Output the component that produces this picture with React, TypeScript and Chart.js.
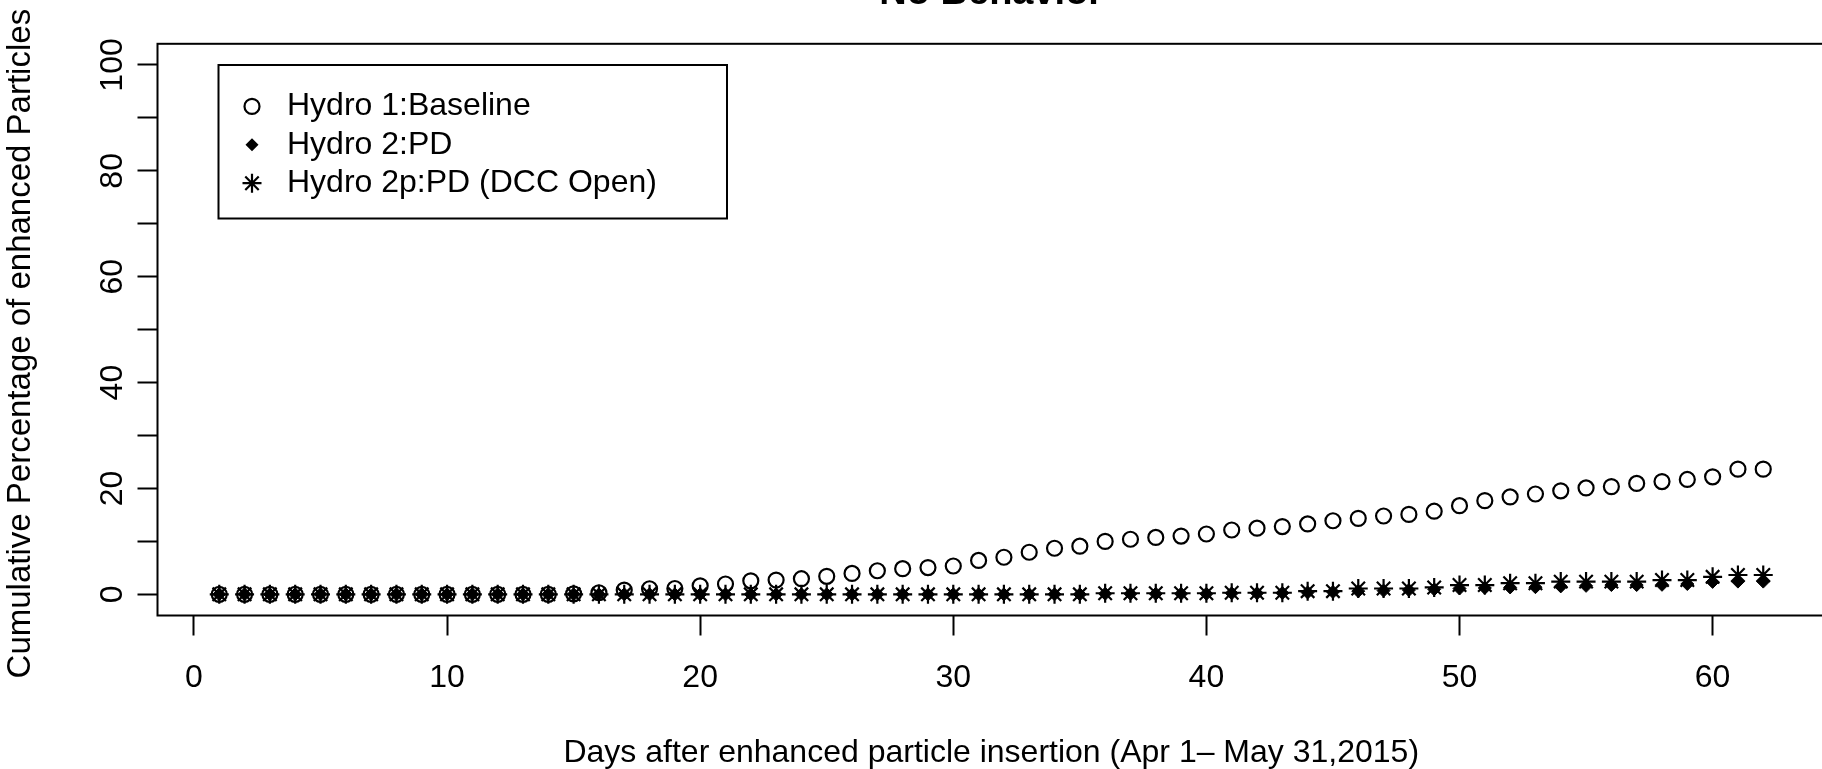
import { useEffect, useRef } from 'react';
import { Chart, registerables } from 'chart.js';

Chart.register(...registerables);

// Day index after particle insertion (x axis)
const days = [
  1, 2, 3, 4, 5, 6, 7, 8, 9, 10, 11, 12, 13, 14, 15, 16, 17, 18, 19, 20, 21,
  22, 23, 24, 25, 26, 27, 28, 29, 30, 31, 32, 33, 34, 35, 36, 37, 38, 39, 40,
  41, 42, 43, 44, 45, 46, 47, 48, 49, 50, 51, 52, 53, 54, 55, 56, 57, 58, 59,
  60, 61, 62,
];

// Cumulative % of enhanced particles, Hydro 1:Baseline
const baseline = [
  0, 0, 0, 0, 0, 0, 0, 0, 0, 0, 0, 0, 0, 0, 0.1, 0.3, 0.8, 1.05, 1.1, 1.6, 1.95,
  2.55, 2.7, 2.95, 3.4, 3.95, 4.45, 4.85, 5.05, 5.35, 6.4, 7.0, 7.95, 8.7, 9.1,
  10.0, 10.4, 10.75, 11.0, 11.4, 12.15, 12.5, 12.8, 13.3, 13.9, 14.35, 14.8,
  15.1, 15.7, 16.75, 17.7, 18.4, 18.95, 19.55, 20.1, 20.35, 20.95, 21.3, 21.7,
  22.2, 23.65, 23.65,
];

// Hydro 2:PD
const hydro2PD = [
  0, 0, 0, 0, 0, 0, 0, 0, 0, 0, 0, 0, 0, 0, 0, 0, 0, 0, 0, 0, 0, 0, 0, 0, 0, 0,
  0, 0, 0, 0, 0, 0, 0, 0, 0, 0.1, 0.1, 0.1, 0.1, 0.1, 0.2, 0.2, 0.25, 0.35, 0.45,
  0.6, 0.7, 0.8, 0.95, 1.1, 1.2, 1.3, 1.35, 1.5, 1.6, 1.75, 1.75, 1.8, 1.95,
  2.35, 2.4, 2.4,
];

// Hydro 2p:PD (DCC Open)
const hydro2pDCC = [
  0, 0, 0, 0, 0, 0, 0, 0, 0, 0, 0, 0, 0, 0, 0, 0, 0, 0, 0, 0, 0, 0, 0, 0, 0, 0,
  0, 0, 0, 0, 0, 0, 0, 0, 0, 0.2, 0.2, 0.2, 0.2, 0.2, 0.3, 0.3, 0.3, 0.6, 0.6,
  1.1, 1.1, 1.1, 1.3, 1.75, 1.75, 2.1, 2.1, 2.4, 2.4, 2.4, 2.4, 2.7, 2.7, 3.3,
  3.65, 3.65,
];

const seriesNames = ['Hydro 1:Baseline', 'Hydro 2:PD', 'Hydro 2p:PD (DCC Open)'];
const xTickValues = [0, 10, 20, 30, 40, 50, 60];
const yTickValues = [0, 10, 20, 30, 40, 50, 60, 70, 80, 90, 100];
const yTickLabels = [0, 20, 40, 60, 80, 100];

const titleText = 'No Behavior';
const xTitle = 'Days after enhanced particle insertion (Apr 1\u2013 May 31,2015)';
const yTitle = 'Cumulative Percentage of enhanced Particles';

const FONT = '"Liberation Sans", Arial, Helvetica, sans-serif';
const CANVAS_W = 1840;
const CANVAS_H = 769;

function toPoints(ys: number[]) {
  return days.map((d, i) => ({ x: d, y: ys[i] }));
}

// legend marker shapes, matching the dataset point styles
function drawMarker(ctx: CanvasRenderingContext2D, kind: number, x: number, y: number) {
  ctx.save();
  ctx.strokeStyle = '#000';
  ctx.fillStyle = '#000';
  if (kind === 0) {
    ctx.lineWidth = 2.2;
    ctx.beginPath();
    ctx.arc(x, y, 7.5, 0, Math.PI * 2);
    ctx.stroke();
  } else if (kind === 1) {
    const r = 6.5;
    ctx.beginPath();
    ctx.moveTo(x, y - r);
    ctx.lineTo(x + r, y);
    ctx.lineTo(x, y + r);
    ctx.lineTo(x - r, y);
    ctx.closePath();
    ctx.fill();
  } else {
    const r = 9.5;
    const d = r * Math.SQRT1_2;
    ctx.lineWidth = 2.2;
    ctx.beginPath();
    ctx.moveTo(x - r, y);
    ctx.lineTo(x + r, y);
    ctx.moveTo(x, y - r);
    ctx.lineTo(x, y + r);
    ctx.moveTo(x - d, y - d);
    ctx.lineTo(x + d, y + d);
    ctx.moveTo(x - d, y + d);
    ctx.lineTo(x + d, y - d);
    ctx.stroke();
  }
  ctx.restore();
}

const framePlugin = {
  id: 'frame',
  afterDraw(chart: any) {
    const { ctx, chartArea, scales } = chart;
    const yScale = scales.y;
    ctx.save();

    // plot box
    ctx.strokeStyle = '#000';
    ctx.lineWidth = 2;
    ctx.strokeRect(chartArea.left, chartArea.top, chartArea.right - chartArea.left, chartArea.bottom - chartArea.top);

    const cx = (chartArea.left + chartArea.right) / 2;
    const cy = (chartArea.top + chartArea.bottom) / 2;

    // main title
    ctx.fillStyle = '#000';
    ctx.font = `bold 38px ${FONT}`;
    ctx.textAlign = 'center';
    ctx.textBaseline = 'alphabetic';
    ctx.fillText(titleText, cx, 3.5);

    // x axis title
    ctx.font = `32px ${FONT}`;
    ctx.textBaseline = 'middle';
    ctx.fillText(xTitle, cx, 753);

    // y tick labels, rotated
    yTickLabels.forEach((v) => {
      const py = yScale.getPixelForValue(v);
      ctx.save();
      ctx.translate(113.5, py);
      ctx.rotate(-Math.PI / 2);
      ctx.textAlign = 'center';
      ctx.textBaseline = 'middle';
      ctx.fillText(String(v), 0, 0);
      ctx.restore();
    });

    // y axis title
    ctx.save();
    ctx.font = `33px ${FONT}`;
    ctx.translate(21, cy + 14);
    ctx.rotate(-Math.PI / 2);
    ctx.textAlign = 'center';
    ctx.textBaseline = 'middle';
    ctx.fillText(yTitle, 0, 0);
    ctx.restore();

    // legend box
    const lx = 218.5;
    const ly = 65;
    const lw = 508.5;
    const lh = 153.5;
    ctx.fillStyle = '#fff';
    ctx.fillRect(lx, ly, lw, lh);
    ctx.strokeStyle = '#000';
    ctx.lineWidth = 2;
    ctx.strokeRect(lx, ly, lw, lh);
    ctx.fillStyle = '#000';
    ctx.font = `32px ${FONT}`;
    ctx.textAlign = 'left';
    ctx.textBaseline = 'middle';
    seriesNames.forEach((name, i) => {
      const ry = ly + 38.4 * (i + 1) + 3;
      drawMarker(ctx, i, 252, ry);
      ctx.fillText(name, 287, ry);
    });

    ctx.restore();
  },
};

export default function App() {
  const canvasRef = useRef<HTMLCanvasElement | null>(null);

  useEffect(() => {
    const canvas = canvasRef.current;
    if (!canvas) return;
    const chart = new Chart(canvas, {
      type: 'line',
      data: {
        datasets: [
          {
            label: seriesNames[0],
            data: toPoints(baseline),
            showLine: false,
            pointStyle: 'circle',
            pointRadius: 7.5,
            pointBorderWidth: 2.2,
            pointBorderColor: '#000',
            pointBackgroundColor: 'rgba(0,0,0,0)',
            order: 2,
          },
          {
            label: seriesNames[1],
            data: toPoints(hydro2PD),
            showLine: false,
            pointStyle: 'rectRot',
            pointRadius: 6.5,
            pointBorderWidth: 1,
            pointBorderColor: '#000',
            pointBackgroundColor: '#000',
            order: 1,
          },
          {
            label: seriesNames[2],
            data: toPoints(hydro2pDCC),
            showLine: false,
            pointStyle: 'star',
            pointRadius: 9.5,
            pointBorderWidth: 2.2,
            pointBorderColor: '#000',
            pointBackgroundColor: '#000',
            order: 0,
          },
        ],
      },
      options: {
        responsive: false,
        animation: false,
        devicePixelRatio: 1,
        layout: { padding: { top: 43.8, right: CANVAS_W - 1825, left: 0, bottom: 0 } },
        plugins: {
          legend: { display: false },
          tooltip: { enabled: false },
          title: { display: false },
        },
        scales: {
          x: {
            type: 'linear',
            min: -1.44,
            max: 64.44,
            afterBuildTicks: (s: any) => {
              s.ticks = xTickValues.map((v) => ({ value: v }));
            },
            afterFit: (s: any) => {
              s.height = 153.5;
            },
            ticks: {
              color: '#000',
              font: { family: FONT, size: 32 },
              padding: 23,
              maxRotation: 0,
              autoSkip: false,
            },
            grid: {
              drawOnChartArea: false,
              drawTicks: true,
              tickLength: 20,
              tickWidth: 2,
              tickColor: '#000',
            },
            border: { display: false },
          },
          y: {
            type: 'linear',
            min: -4,
            max: 104,
            afterBuildTicks: (s: any) => {
              s.ticks = yTickValues.map((v) => ({ value: v }));
            },
            afterFit: (s: any) => {
              s.width = 157.5;
            },
            ticks: { display: false },
            grid: {
              drawOnChartArea: false,
              drawTicks: true,
              tickLength: 20,
              tickWidth: 2,
              tickColor: '#000',
            },
            border: { display: false },
          },
        },
      },
      plugins: [framePlugin],
    });
    return () => chart.destroy();
  }, []);

  return (
    <div
      style={{
        position: 'fixed',
        left: 0,
        top: 0,
        width: 1822,
        height: 769,
        overflow: 'hidden',
        background: '#fff',
      }}
    >
      <canvas
        ref={canvasRef}
        width={CANVAS_W}
        height={CANVAS_H}
        style={{ display: 'block', width: CANVAS_W, height: CANVAS_H }}
      />
    </div>
  );
}
